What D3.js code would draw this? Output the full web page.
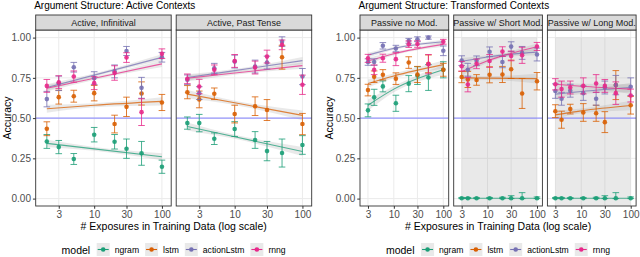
<!DOCTYPE html>
<html>
<head>
<meta charset="utf-8">
<script src="https://cdn.jsdelivr.net/npm/d3@7"></script>
<style>
body { margin: 0; background: #fff; }
svg { display: block; font-family: "Liberation Sans", Arial, sans-serif; }
</style>
</head>
<body>
<div id="chart"></div>
<script>
// ---- data ----
const modelNames = ['ngram', 'lstm', 'actionLstm', 'rnng'];
const modelColors = ['#1B9E77', '#D95F02', '#7570B3', '#E7298A'];
const groupTitles = ['Argument Structure: Active Contexts', 'Argument Structure: Transformed Contexts'];
const panelTitles = ['Active, Infinitival', 'Active, Past Tense', 'Passive no Mod.', 'Passive w/ Short Mod.', 'Passive w/ Long Mod.'];
const activeExposures = [2, 3, 5, 10, 20, 30, 50, 100];
const transformedExposures = [3, 4, 6, 11, 20, 30, 50, 100];
const xTicks = [3, 10, 30, 100];
const yTicks = [0, 0.25, 0.5, 0.75, 1];
const chance = 0.5;

// mean accuracy, one row per panel
const ngramAcc = [
  [0.355, 0.32, 0.246, 0.397, 0.353, 0.31, 0.281, 0.198],
  [0.469, 0.469, 0.372, 0.432, 0.364, 0.295, 0.283, 0.333],
  [0.548, 0.629, 0.697, 0.592, 0.714, 0.764, 0.752, 0.80],
  [0.002, 0.002, 0.002, 0.002, 0.002, 0.002, 0.002, 0.002],
  [0.002, 0.002, 0.002, 0.002, 0.002, 0.002, 0.002, 0.002]
];
const lstmAcc = [
  [0.434, 0.63, 0.636, 0.655, 0.463, 0.57, 0.653, 0.597],
  [0.661, 0.616, 0.651, 0.525, 0.574, 0.55, 0.878, 0.463],
  [0.674, 0.757, 0.769, 0.745, 0.845, 0.771, 0.837, 0.80],
  [0.755, 0.74, 0.737, 0.769, 0.771, 0.803, 0.653, 0.729],
  [0.543, 0.49, 0.556, 0.535, 0.53, 0.475, 0.705, 0.58]
];
const actionAcc = [
  [0.618, 0.716, 0.816, 0.748, 0.79, 0.917, 0.688, 0.878],
  [0.738, 0.655, 0.81, 0.851, 0.82, 0.845, 0.975, 0.758],
  [0.848, 0.848, 0.949, 0.932, 0.98, 0.99, 1.0, 0.918],
  [0.857, 0.80, 0.856, 0.912, 0.848, 0.944, 0.905, 0.895],
  [0.668, 0.62, 0.67, 0.655, 0.62, 0.69, 0.705, 0.695]
];
const rnngAcc = [
  [0.70, 0.723, 0.758, 0.717, 0.78, 0.876, 0.537, 0.90],
  [0.744, 0.696, 0.80, 0.855, 0.814, 0.882, 0.955, 0.707],
  [0.871, 0.80, 0.872, 0.866, 0.959, 0.96, 0.835, 0.974],
  [0.822, 0.708, 0.837, 0.855, 0.913, 0.886, 0.89, 0.945],
  [0.71, 0.68, 0.69, 0.70, 0.715, 0.70, 0.655, 0.64]
];

// error bar half widths
const ngramErr = [
  [0.043, 0.041, 0.034, 0.045, 0.045, 0.06, 0.074, 0.041],
  [0.038, 0.054, 0.036, 0.046, 0.052, 0.06, 0.087, 0.058],
  [0.04, 0.05, 0.034, 0.05, 0.05, 0.055, 0.08, 0.05],
  [0.005, 0.005, 0.004, 0.005, 0.006, 0.016, 0.035, 0.008],
  [0.005, 0.005, 0.004, 0.005, 0.006, 0.016, 0.035, 0.008]
];
const lstmErr = [
  [0.043, 0.043, 0.037, 0.048, 0.055, 0.06, 0.072, 0.05],
  [0.041, 0.052, 0.036, 0.055, 0.058, 0.065, 0.074, 0.066],
  [0.036, 0.036, 0.032, 0.036, 0.036, 0.05, 0.055, 0.04],
  [0.035, 0.05, 0.033, 0.05, 0.05, 0.057, 0.093, 0.054],
  [0.04, 0.053, 0.03, 0.055, 0.05, 0.065, 0.09, 0.055]
];
const actionErr = [
  [0.048, 0.045, 0.03, 0.04, 0.04, 0.028, 0.065, 0.03],
  [0.03, 0.04, 0.03, 0.04, 0.04, 0.04, 0.03, 0.05],
  [0.02, 0.02, 0.02, 0.02, 0.015, 0.015, 0.01, 0.03],
  [0.03, 0.04, 0.03, 0.03, 0.035, 0.03, 0.04, 0.04],
  [0.045, 0.04, 0.04, 0.045, 0.04, 0.04, 0.06, 0.055]
];
const rnngErr = [
  [0.04, 0.04, 0.035, 0.04, 0.045, 0.03, 0.083, 0.03],
  [0.03, 0.045, 0.03, 0.04, 0.04, 0.04, 0.03, 0.06],
  [0.025, 0.03, 0.025, 0.04, 0.02, 0.02, 0.06, 0.015],
  [0.03, 0.045, 0.03, 0.04, 0.03, 0.03, 0.05, 0.025],
  [0.035, 0.05, 0.04, 0.05, 0.055, 0.04, 0.07, 0.04]
];

// fitted trend at first exposure, 10 and last exposure, and its band half width
const ngramFit = [[0.343, 0.309, 0.26], [0.448, 0.384, 0.293], [0.58, 0.68, 0.80], [0.002, 0.002, 0.002], [0.002, 0.002, 0.002]];
const lstmFit = [[0.558, 0.58, 0.604], [0.649, 0.595, 0.517], [0.715, 0.762, 0.832], [0.75, 0.748, 0.745], [0.52, 0.545, 0.578]];
const actionFit = [[0.69, 0.767, 0.877], [0.752, 0.795, 0.857], [0.891, 0.933, 0.974], [0.853, 0.88, 0.91], [0.649, 0.665, 0.69]];
const rnngFit = [[0.685, 0.747, 0.837], [0.748, 0.78, 0.826], [0.855, 0.9, 0.958], [0.788, 0.856, 0.943], [0.71, 0.698, 0.68]];
const ngramBand = [[0.022, 0.012, 0.022], [0.025, 0.013, 0.028], [0.035, 0.02, 0.03], [1, 1, 1], [1, 1, 1]];
const lstmBand = [[0.025, 0.012, 0.025], [0.025, 0.013, 0.03], [0.025, 0.015, 0.025], [0.02, 0.012, 0.03], [0.025, 0.015, 0.03]];
const actionBand = [[0.02, 0.01, 0.02], [0.02, 0.01, 0.022], [0.015, 0.008, 0.012], [0.02, 0.01, 0.02], [0.03, 0.015, 0.03]];
const rnngBand = [[0.02, 0.01, 0.02], [0.02, 0.01, 0.02], [0.02, 0.01, 0.015], [0.025, 0.012, 0.02], [0.03, 0.015, 0.03]];

const accuracy = [ngramAcc, lstmAcc, actionAcc, rnngAcc];
const errors = [ngramErr, lstmErr, actionErr, rnngErr];
const fits = [ngramFit, lstmFit, actionFit, rnngFit];
const bands = [ngramBand, lstmBand, actionBand, rnngBand];

// ---- layout ----
const width = 640, height = 257;
const panelTop = 30, panelBottom = 206, stripTop = 15;
const ribbonFill = '#999', ribbonOpacity = 0.22;
const groups = [
  { title: groupTitles[0], panels: [0, 1], left: 35.7, pw: 135.5, gap: 5, xs: activeExposures, domain: [1.37, 137], yTitleOff: 28.5 },
  { title: groupTitles[1], panels: [2, 3, 4], left: 360, pw: 88.7, gap: 5, xs: transformedExposures, domain: [2.07, 128.5], yTitleOff: 31 }
];

const svg = d3.select('#chart').append('svg')
  .attr('width', width)
  .attr('height', height);

const y = d3.scaleLinear().domain([0, 1]).range([198.6, 37.6]);

groups.forEach((g, gi) => {
  const x = d3.scaleLog().domain(g.domain).range([0, g.pw]);
  const right = g.left + g.panels.length * g.pw + (g.panels.length - 1) * g.gap;
  const center = (g.left + right) / 2;

  svg.append('text')
    .attr('x', g.left - 1.5)
    .attr('y', 9)
    .attr('font-size', '10px')
    .attr('fill', '#000')
    .text(g.title);

  g.panels.forEach((p, i) => {
    const left = g.left + i * (g.pw + g.gap);
    const panel = svg.append('g').attr('transform', `translate(${left},0)`);
    const clipId = 'clip' + p;

    panel.append('clipPath').attr('id', clipId)
      .append('rect')
      .attr('x', 0).attr('y', panelTop)
      .attr('width', g.pw).attr('height', panelBottom - panelTop);

    panel.append('rect')
      .attr('x', 0).attr('y', panelTop)
      .attr('width', g.pw).attr('height', panelBottom - panelTop)
      .attr('fill', '#fff');

    // grid
    panel.selectAll('.hgrid').data(yTicks).enter().append('line')
      .attr('x1', 0).attr('x2', g.pw)
      .attr('y1', d => y(d)).attr('y2', d => y(d))
      .attr('stroke', '#EBEBEB').attr('stroke-width', 1);
    panel.selectAll('.vgrid').data(xTicks).enter().append('line')
      .attr('x1', d => x(d)).attr('x2', d => x(d))
      .attr('y1', panelTop).attr('y2', panelBottom)
      .attr('stroke', '#EBEBEB').attr('stroke-width', 1);

    const plot = panel.append('g').attr('clip-path', `url(#${clipId})`);
    const fitX = [g.xs[0], 10, g.xs[g.xs.length - 1]];

    // ribbons
    modelNames.forEach((m, mi) => {
      const pts = fitX.map((xv, k) => ({ x: xv, v: fits[mi][p][k], b: bands[mi][p][k] }));
      plot.append('path')
        .datum(pts)
        .attr('d', d3.area()
          .x(d => x(d.x))
          .y0(d => y(d.v - d.b))
          .y1(d => y(Math.min(1, d.v + d.b)))
          .curve(d3.curveMonotoneX))
        .attr('fill', ribbonFill)
        .attr('opacity', ribbonOpacity);
    });

    plot.append('line')
      .attr('x1', 0).attr('x2', g.pw)
      .attr('y1', y(chance)).attr('y2', y(chance))
      .attr('stroke', '#8080FF').attr('stroke-width', 1);

    // fitted lines
    modelNames.forEach((m, mi) => {
      const pts = fitX.map((xv, k) => ({ x: xv, v: fits[mi][p][k] }));
      plot.append('path')
        .datum(pts)
        .attr('d', d3.line().x(d => x(d.x)).y(d => y(d.v)).curve(d3.curveMonotoneX))
        .attr('fill', 'none')
        .attr('stroke', modelColors[mi])
        .attr('stroke-opacity', 0.75)
        .attr('stroke-width', 1.1);
    });

    // error bars and points
    modelNames.forEach((m, mi) => {
      const data = g.xs.map((xv, k) => ({
        x: xv,
        v: accuracy[mi][p][k],
        lo: Math.max(0, accuracy[mi][p][k] - errors[mi][p][k]),
        hi: accuracy[mi][p][k] + errors[mi][p][k]
      }));
      const eb = plot.append('g')
        .attr('stroke', modelColors[mi])
        .attr('stroke-opacity', 0.8)
        .attr('stroke-width', 1);
      eb.selectAll('.v').data(data).enter().append('line')
        .attr('x1', d => x(d.x)).attr('x2', d => x(d.x))
        .attr('y1', d => y(d.lo)).attr('y2', d => y(d.hi));
      eb.selectAll('.t').data(data).enter().append('line')
        .attr('x1', d => x(d.x) - 3.3).attr('x2', d => x(d.x) + 3.3)
        .attr('y1', d => y(d.hi)).attr('y2', d => y(d.hi));
      eb.selectAll('.b').data(data).enter().append('line')
        .attr('x1', d => x(d.x) - 3.3).attr('x2', d => x(d.x) + 3.3)
        .attr('y1', d => y(d.lo)).attr('y2', d => y(d.lo));
      plot.selectAll('.pt' + mi).data(data).enter().append('circle')
        .attr('cx', d => x(d.x))
        .attr('cy', d => y(d.v))
        .attr('r', 2.3)
        .attr('fill', modelColors[mi])
        .attr('fill-opacity', 0.9);
    });

    panel.append('rect')
      .attr('x', 0).attr('y', panelTop)
      .attr('width', g.pw).attr('height', panelBottom - panelTop)
      .attr('fill', 'none').attr('stroke', '#333').attr('stroke-width', 0.9);

    // strip
    panel.append('rect')
      .attr('x', 0).attr('y', stripTop)
      .attr('width', g.pw).attr('height', panelTop - stripTop)
      .attr('fill', '#D9D9D9').attr('stroke', '#333').attr('stroke-width', 0.9);
    panel.append('text')
      .attr('x', g.pw / 2).attr('y', (stripTop + panelTop) / 2 + 0.5)
      .attr('text-anchor', 'middle')
      .attr('dominant-baseline', 'central')
      .attr('font-size', '9px')
      .attr('fill', '#1A1A1A')
      .text(panelTitles[p]);

    // x axis
    const xAxis = panel.append('g')
      .attr('transform', `translate(0,${panelBottom})`)
      .call(d3.axisBottom(x).tickValues(xTicks).tickFormat(d3.format('d')).tickSize(2.75).tickPadding(2));
    xAxis.select('.domain').remove();
    xAxis.selectAll('line').attr('stroke', '#333');
    xAxis.selectAll('text').attr('font-size', '10px').attr('fill', '#4D4D4D').attr('font-family', null);

    if (i === 0) {
      const yAxis = panel.append('g')
        .call(d3.axisLeft(y).tickValues(yTicks).tickFormat(d3.format('.2f')).tickSize(2.75).tickPadding(2));
      yAxis.select('.domain').remove();
      yAxis.selectAll('line').attr('stroke', '#333');
      yAxis.selectAll('text').attr('font-size', '10px').attr('fill', '#4D4D4D').attr('font-family', null);
    }
  });

  // axis titles
  svg.append('text')
    .attr('transform', `translate(${g.left - g.yTitleOff},${(panelTop + panelBottom) / 2}) rotate(-90)`)
    .attr('text-anchor', 'middle')
    .attr('dominant-baseline', 'central')
    .attr('font-size', '10.5px')
    .text('Accuracy');

  svg.append('text')
    .attr('x', center)
    .attr('y', 229.5)
    .attr('text-anchor', 'middle')
    .attr('font-size', '10.5px')
    .text('# Exposures in Training Data (log scale)');

  // legend, centred under its group
  const legend = svg.append('g');
  const ly = 249.5;
  let cx = 0;
  const title = legend.append('text')
    .attr('x', 0).attr('y', ly)
    .attr('dominant-baseline', 'central')
    .attr('font-size', '10.5px')
    .text('model');
  cx += title.node().getComputedTextLength() + 6.5;
  modelNames.forEach((m, mi) => {
    legend.append('rect')
      .attr('x', cx).attr('y', ly - 6.5)
      .attr('width', 13).attr('height', 13)
      .attr('fill', ribbonFill).attr('opacity', ribbonOpacity);
    legend.append('line')
      .attr('x1', cx + 1).attr('x2', cx + 12)
      .attr('y1', ly).attr('y2', ly)
      .attr('stroke', modelColors[mi]).attr('stroke-width', 1.1);
    legend.append('circle')
      .attr('cx', cx + 6.5).attr('cy', ly).attr('r', 2.3)
      .attr('fill', modelColors[mi]);
    cx += 13 + 5;
    const t = legend.append('text')
      .attr('x', cx).attr('y', ly)
      .attr('dominant-baseline', 'central')
      .attr('font-size', '8.6px')
      .text(m);
    cx += t.node().getComputedTextLength() + (mi < modelNames.length - 1 ? 6 : 0);
  });
  const bb = legend.node().getBBox();
  legend.attr('transform', `translate(${center - bb.x - bb.width / 2},0)`);
});
</script>
</body>
</html>
